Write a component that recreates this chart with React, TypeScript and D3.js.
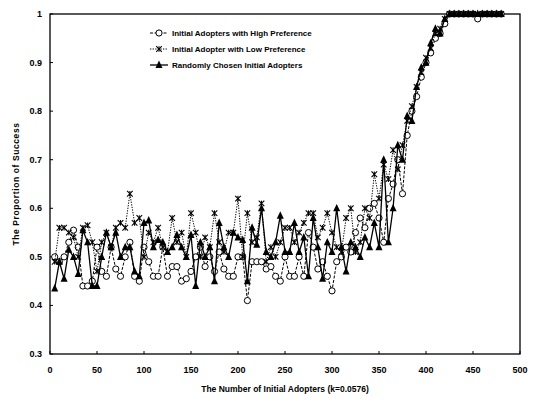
import React from "react";
import * as d3 from "d3";

const xValues: number[] = d3.range(5, 481, 5);

const highPref: number[] = [
  0.50, 0.49, 0.50, 0.53, 0.555, 0.52, 0.44, 0.44, 0.45, 0.52,
  0.47, 0.46, 0.52, 0.475, 0.46, 0.50, 0.53, 0.46, 0.45, 0.52,
  0.49, 0.46, 0.46, 0.52, 0.46, 0.48, 0.48, 0.45, 0.455, 0.47,
  0.50, 0.52, 0.48, 0.50, 0.47, 0.51, 0.475, 0.46, 0.46, 0.50,
  0.50, 0.41, 0.49, 0.49, 0.49, 0.475, 0.48, 0.46, 0.45, 0.50,
  0.46, 0.46, 0.50, 0.46, 0.55, 0.52, 0.475, 0.49, 0.46, 0.43,
  0.49, 0.50, 0.52, 0.51, 0.55, 0.58, 0.56, 0.60, 0.61, 0.58,
  0.53, 0.62, 0.65, 0.70, 0.63, 0.75, 0.80, 0.83, 0.87, 0.90,
  0.92, 0.95, 0.96, 0.98, 1, 1, 1, 1, 1, 1,
  0.99, 1, 1, 1, 1, 1,
];

const lowPref: number[] = [
  0.49, 0.56, 0.56, 0.55, 0.54, 0.50, 0.56, 0.565, 0.53, 0.47,
  0.53, 0.55, 0.52, 0.56, 0.57, 0.56, 0.63, 0.57, 0.58, 0.50,
  0.55, 0.53, 0.56, 0.52, 0.51, 0.58, 0.53, 0.55, 0.50, 0.59,
  0.55, 0.50, 0.54, 0.52, 0.59, 0.53, 0.51, 0.55, 0.55, 0.62,
  0.50, 0.59, 0.53, 0.54, 0.61, 0.49, 0.52, 0.50, 0.53, 0.56,
  0.56, 0.53, 0.55, 0.57, 0.59, 0.59, 0.54, 0.56, 0.59, 0.55,
  0.52, 0.51, 0.58, 0.60, 0.51, 0.53, 0.60, 0.58, 0.67, 0.62,
  0.69, 0.66, 0.72, 0.68, 0.73, 0.78, 0.81, 0.85, 0.88, 0.91,
  0.93, 0.96, 0.97, 0.99, 1, 1, 1, 1, 1, 1,
  1, 1, 1, 1, 1, 1,
];

const randomAdopters: number[] = [
  0.435, 0.49, 0.455, 0.515, 0.50, 0.465, 0.555, 0.53, 0.44, 0.44,
  0.50, 0.55, 0.52, 0.55, 0.50, 0.52, 0.52, 0.47, 0.46, 0.57,
  0.575, 0.52, 0.535, 0.53, 0.51, 0.52, 0.545, 0.52, 0.50, 0.545,
  0.44, 0.53, 0.50, 0.52, 0.45, 0.57, 0.52, 0.50, 0.55, 0.54,
  0.535, 0.45, 0.56, 0.525, 0.60, 0.51, 0.50, 0.53, 0.585, 0.51,
  0.51, 0.57, 0.51, 0.54, 0.46, 0.58, 0.52, 0.455, 0.53, 0.51,
  0.60, 0.52, 0.47, 0.53, 0.52, 0.50, 0.54, 0.52, 0.57, 0.52,
  0.70, 0.53, 0.60, 0.73, 0.70, 0.79, 0.78, 0.85, 0.89, 0.90,
  0.94, 0.97, 0.96, 0.99, 1, 1, 1, 1, 1, 1,
  1, 1, 1, 1, 1, 1,
];

const xTicks: number[] = [0, 50, 100, 150, 200, 250, 300, 350, 400, 450, 500];
const yTicks: number[] = [0.3, 0.4, 0.5, 0.6, 0.7, 0.8, 0.9, 1];
const seriesNames: string[] = [
  "Initial Adopters with High Preference",
  "Initial Adopter with Low Preference",
  "Randomly Chosen Initial Adopters",
];
const xTitle = "The Number of Initial Adopters (k=0.0576)";
const yTitle = "The Proportion of Success";

const W = 534;
const H = 407;
const L = 50, R = 520, T = 14, B = 354;
const FONT = "'Liberation Sans', Arial, sans-serif";

function Marker({ kind, x, y }: { kind: number; x: number; y: number }) {
  if (kind === 0) {
    return <circle cx={x} cy={y} r={3.1} fill="white" stroke="black" strokeWidth={1} />;
  }
  if (kind === 1) {
    const s = 2.8;
    return (
      <g stroke="black" strokeWidth={1.1}>
        <line x1={x - s} y1={y - s} x2={x + s} y2={y + s} />
        <line x1={x - s} y1={y + s} x2={x + s} y2={y - s} />
        <line x1={x} y1={y - s} x2={x} y2={y + s} />
      </g>
    );
  }
  const s = 4.4;
  return (
    <path
      d={`M${x},${y - s}L${x + s * 0.8},${y + s * 0.7}L${x - s * 0.8},${y + s * 0.7}Z`}
      fill="black"
    />
  );
}

export default function App() {
  const x = d3.scaleLinear().domain([0, 500]).range([L, R]);
  const y = d3.scaleLinear().domain([0.3, 1]).range([B, T]);
  const series = [highPref, lowPref, randomAdopters];
  const dashes = ["3,1.5", "1.3,1.3", ""];
  const widths = [1, 1, 1.3];
  const line = d3
    .line<number>()
    .x((_, i) => x(xValues[i]))
    .y((d) => y(d));

  return (
    <svg width={W} height={H} style={{ position: "absolute", left: 0, top: 0 }}>
      <rect width={W} height={H} fill="white" />
      <rect x={L} y={T} width={R - L} height={B - T} fill="none" stroke="black" strokeWidth={1.3} />
      {yTicks.map((t) => (
        <g key={"y" + t}>
          <line x1={L} x2={L + 3} y1={y(t)} y2={y(t)} stroke="black" />
          <text x={L - 8} y={y(t) + 3} textAnchor="end" fontFamily={FONT} fontWeight="bold" fontSize={9}>
            {t === 1 ? "1" : t.toFixed(1)}
          </text>
        </g>
      ))}
      {xTicks.map((t) => (
        <g key={"x" + t}>
          <line x1={x(t)} x2={x(t)} y1={B} y2={B - 3} stroke="black" />
          <text x={x(t)} y={B + 19} textAnchor="middle" fontFamily={FONT} fontWeight="bold" fontSize={9}>
            {t}
          </text>
        </g>
      ))}
      <text x={285} y={392} textAnchor="middle" fontFamily={FONT} fontWeight="bold" fontSize={8.5}>
        {xTitle}
      </text>
      <text
        transform={`translate(19,${(T + B) / 2}) rotate(-90)`}
        textAnchor="middle"
        fontFamily={FONT}
        fontWeight="bold"
        fontSize={8.5}
        letterSpacing={0.6}
      >
        {yTitle}
      </text>
      {series.map((s, k) => (
        <g key={"s" + k}>
          <path d={line(s) || ""} fill="none" stroke="black" strokeWidth={widths[k]} strokeDasharray={dashes[k] || undefined} />
          {s.map((v, i) => (
            <Marker key={i} kind={k} x={x(xValues[i])} y={y(v)} />
          ))}
        </g>
      ))}
      {seriesNames.map((n, k) => {
        const ly = 33 + k * 16;
        return (
          <g key={"l" + k}>
            <line x1={150} x2={168} y1={ly} y2={ly} stroke="black" strokeWidth={widths[k]} strokeDasharray={dashes[k] || undefined} />
            <Marker kind={k} x={159} y={ly} />
            <text x={172} y={ly + 3} fontFamily={FONT} fontWeight="bold" fontSize={8}>
              {n}
            </text>
          </g>
        );
      })}
    </svg>
  );
}
